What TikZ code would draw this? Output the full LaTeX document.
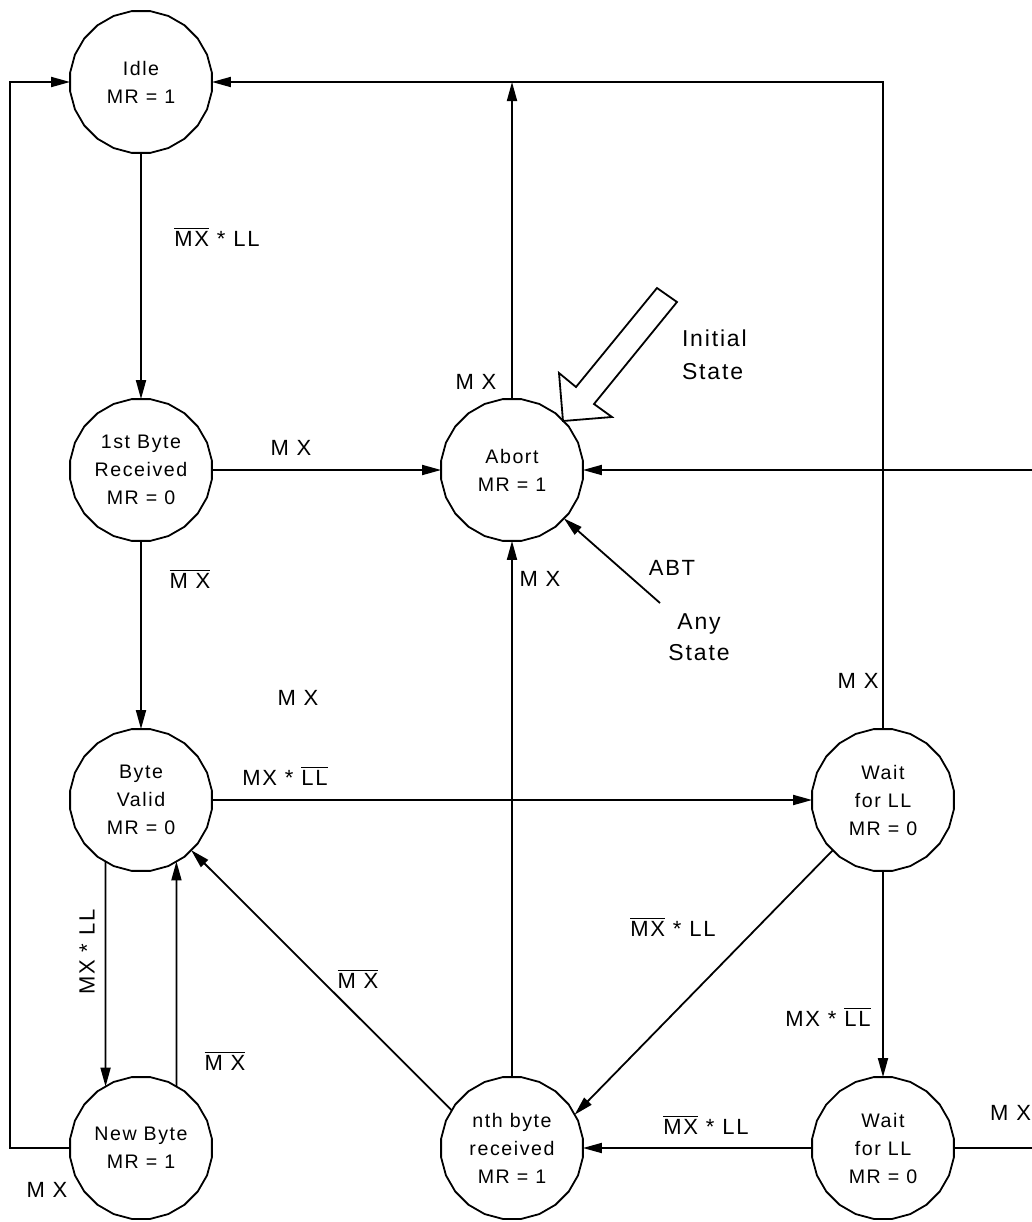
\documentclass[tikz,border=0pt]{standalone}
\usepackage{fontspec}
\setsansfont[LetterSpace=8]{Liberation Sans}
\usetikzlibrary{arrows.meta,shapes.geometric}
% overlined signal name
\newcommand{\barlbl}[1]{$\overline{\mbox{#1}}$}
\begin{document}
\begin{tikzpicture}[x=.5pt,y=-.5pt,
  state/.style={draw,regular polygon,regular polygon sides=24,minimum size=71.5pt,inner sep=0pt,outer sep=0pt,line width=0.9pt,align=center,font=\sffamily\fontsize{9.8}{14}\selectfont},
  lbl/.style={inner sep=0pt,outer sep=0pt,anchor=base,font=\sffamily\fontsize{11}{15.5}\selectfont},
  conn/.style={line width=0.9pt,-{Triangle[length=9.5pt,width=5pt]}}]
\path[use as bounding box] (0,0) rectangle (1032,1222);
% states
\node[state] (idle) at (141,82) {Idle\\MR = 1};
\node[state] (first) at (141,470) {1st Byte\\Received\\MR = 0};
\node[state] (abort) at (512,470) {Abort\\MR = 1};
\node[state] (valid) at (141,800) {Byte\\Valid\\MR = 0};
\node[state] (waitA) at (883,800) {Wait\\for LL\\MR = 0};
\node[state] (newb) at (141,1148) {New Byte\\MR = 1};
\node[state] (nth) at (512,1148) {nth byte\\received\\MR = 1};
\node[state] (waitB) at (883,1148) {Wait\\for LL\\MR = 0};
\coordinate (anyst) at (660,603);
\coordinate (rgtA) at (1032,470);
\coordinate (rgtB) at (1032,1148);
% transitions
\draw[conn] (idle) -- (first);
\draw[conn] (first) -- (abort);
\draw[conn] (first) -- (valid);
\draw[conn] (valid) -- (waitA);
\draw[conn] (valid.-120) -- (newb.120);
\draw[conn] (newb.60) -- (valid.-60);
\draw[conn] (newb.west) -- ++(-60,0) |- (idle.west);
\draw[conn] (nth.148) -- (valid.-45);
\draw[conn] (nth) -- (abort);
\draw[conn] (waitA.-135) -- (nth.28);
\draw[conn] (waitA) -- (waitB);
\draw[conn] (waitB) -- (nth);
\draw[line width=0.9pt] (waitB.east) -- (rgtB);
\draw[conn] (rgtA) -- (abort.east);
\draw[conn] (waitA.north) |- (idle.east);
\draw[conn] (abort.north) -- (abort.north |- idle.east);
\draw[conn] (anyst) -- (abort.-43);
% initial state arrow
\draw[line width=0.9pt,fill=white] (657,288) -- (677,302) -- (594,404) -- (612,417) -- (563,421) -- (559,373) -- (576,387) -- cycle;
% labels
\node[lbl] (lIdle) at (217,246) {\barlbl{MX} * LL};
\node[lbl] (lFirstAbort) at (291,455) {M X};
\node[lbl] (lFirstValid) at (190,588) {\barlbl{M X}};
\node[lbl] (lFree) at (298,705) {M X};
\node[lbl] (lValidWait) at (285,785) {MX * \barlbl{LL}};
\node[lbl,anchor=center,rotate=90] (lValidNew) at (87,952) {MX * LL};
\node[lbl] (lNewValid) at (225,1070) {\barlbl{M X}};
\node[lbl] (lNthValid) at (358,988) {\barlbl{M X}};
\node[lbl] (lNthAbort) at (540,586) {M X};
\node[lbl] (lAbortIdle) at (476,389) {M X};
\node[lbl,anchor=west,align=left,font=\sffamily\fontsize{11.5}{16.5}\selectfont] (lInit) at (682,355) {Initial\\State};
\node[lbl] (lAbt) at (672,575) {ABT};
\node[lbl,anchor=center,align=center,font=\sffamily\fontsize{11.5}{15.5}\selectfont] (lAny) at (699,637) {Any\\State};
\node[lbl] (lWaitIdle) at (858,688) {M X};
\node[lbl] (lWaitNth) at (673,936) {\barlbl{MX} * LL};
\node[lbl] (lWaitWait) at (828,1026) {MX * \barlbl{LL}};
\node[lbl] (lWaitBNth) at (706,1134) {\barlbl{MX} * LL};
\node[lbl,anchor=base east] (lWaitBOut) at (1031,1120) {M X};
\node[lbl] (lNewIdle) at (47,1197) {M X};
\end{tikzpicture}
\end{document}
